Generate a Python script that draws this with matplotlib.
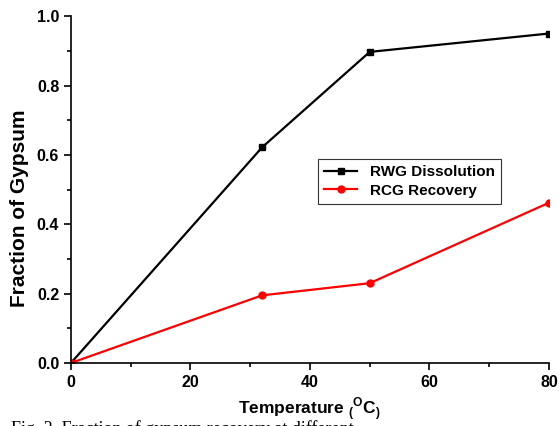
import matplotlib
matplotlib.use("Agg")
import matplotlib.pyplot as plt
from matplotlib.ticker import MultipleLocator

temperature = [0, 32, 50, 80]
rwg_dissolution = [0.0, 0.622, 0.897, 0.950]
rcg_recovery = [0.0, 0.195, 0.230, 0.462]

plt.rcParams["font.family"] = "Liberation Sans"
plt.rcParams["font.weight"] = "bold"
plt.rcParams["mathtext.fontset"] = "custom"
plt.rcParams["mathtext.rm"] = "Liberation Sans:bold"
plt.rcParams["mathtext.bf"] = "Liberation Sans:bold"

fig = plt.figure(figsize=(5.59, 4.26), dpi=100)
ax = fig.add_axes([0.127, 0.148, 0.855, 0.814])

ax.plot(temperature, rwg_dissolution, color="black", marker="s", markersize=5,
        linewidth=1.6, label="RWG Dissolution")
ax.plot(temperature, rcg_recovery, color="red", marker="o", markersize=5,
        linewidth=1.6, label="RCG Recovery")

ax.set_xlim(0, 80)
ax.set_ylim(0, 1.0)
ax.xaxis.set_major_locator(MultipleLocator(20))
ax.xaxis.set_minor_locator(MultipleLocator(10))
ax.yaxis.set_major_locator(MultipleLocator(0.2))
ax.yaxis.set_minor_locator(MultipleLocator(0.1))
ax.yaxis.set_major_formatter(plt.FormatStrFormatter("%.1f"))

for s in ["top", "right"]:
    ax.spines[s].set_visible(False)
for s in ["left", "bottom"]:
    ax.spines[s].set_linewidth(1.2)
ax.tick_params(which="major", direction="out", length=5, width=1.2, labelsize=11.5)
ax.tick_params(which="minor", direction="out", length=3, width=1.2)
for lbl in ax.get_xticklabels() + ax.get_yticklabels():
    lbl.set_fontweight("bold")

ax.set_xlabel(r"Temperature $_($$^{\mathrm{O}}$C$_)$", fontsize=12.5,
              fontweight="bold", labelpad=4)
ax.set_ylabel("Fraction of Gypsum", fontsize=15, fontweight="bold")
ax.yaxis.set_label_coords(-0.087, 0.445)

leg = ax.legend(loc="upper left", bbox_to_anchor=(0.5, 0.61), frameon=True,
                fancybox=False, edgecolor="black", fontsize=11,
                handlelength=2.2, borderpad=0.4, labelspacing=0.3)
leg.get_frame().set_linewidth(0.8)
for t in leg.get_texts():
    t.set_fontweight("bold")

# caption sits at the bottom edge and is cut off, as in the source image
fig.text(0.02, 0.014, "Fig. 3. Fraction of gypsum recovery at different",
         family="Liberation Serif", fontweight="normal", fontsize=13, va="top")

fig.savefig("out.png", dpi=100)
